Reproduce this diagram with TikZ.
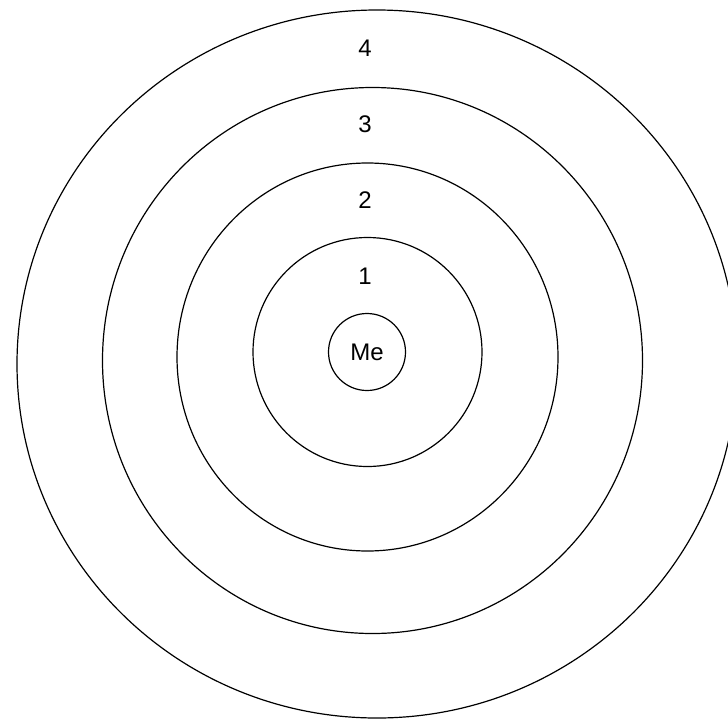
\documentclass[tikz,border=0pt]{standalone}
\usepackage{fontspec}
\setmainfont{Liberation Sans}
\begin{document}
\begin{tikzpicture}[x=0.5pt, y=-0.5pt, font=\fontsize{12}{14}\selectfont]
        \useasboundingbox (0,0) rectangle (728,718);
        \clip (0,0) rectangle (728,718);
        \draw[line width=0.6pt] (377,364) circle[x radius=360, y radius=354];
        \draw[line width=0.6pt] (372.5,360.5) circle[x radius=270, y radius=273];
        \draw[line width=0.6pt] (367.5,357) circle[x radius=190.5, y radius=194];
        \draw[line width=0.6pt] (367.5,352) circle[x radius=114.5, y radius=114.5];
        \node[draw, circle, line width=0.6pt, minimum size=38.5pt, inner sep=0pt] (me) at (367,352) {Me};
        \node (ring1) at (365,276) {1};
        \node (ring2) at (365,200) {2};
        \node (ring3) at (365,124) {3};
        \node (ring4) at (365,48) {4};
    \end{tikzpicture}
\end{document}
